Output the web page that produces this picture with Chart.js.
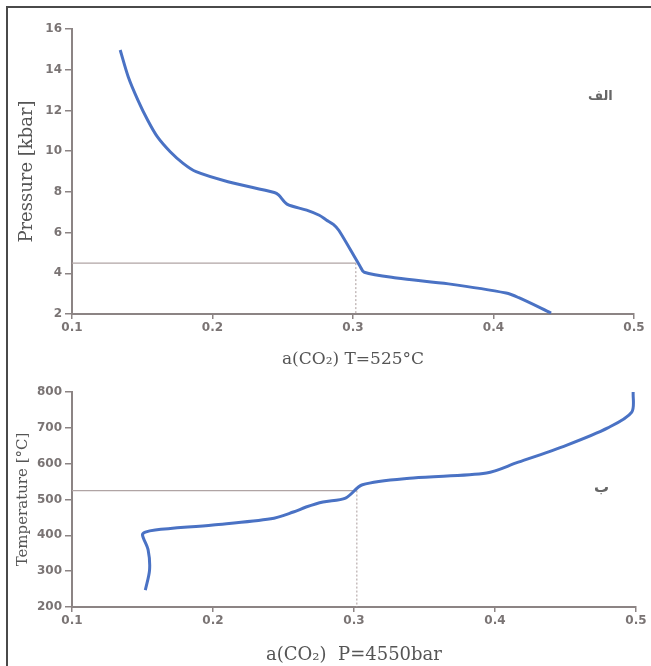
<!DOCTYPE html>
<html lang="fa">
<head>
<meta charset="UTF-8">
<title>a(CO2) curves</title>
<script src="https://cdn.jsdelivr.net/npm/chart.js"></script>
<style>
  html, body { margin: 0; background: #fff; overflow: hidden; }
  .janela { position: relative; width: 651px; height: 666px; overflow: hidden; }
  .borda-topo { position: absolute; left: 6px; top: 6px; width: 645px; height: 2px; background: #4a4a4a; }
  .borda-esq { position: absolute; left: 6px; top: 6px; width: 2px; height: 660px; background: #4a4a4a; }
  canvas { position: absolute; left: 0; }
  #graficoP { top: 0; }
  #graficoT { top: 370px; }
  .rotulo { position: absolute; font-family: "DejaVu Sans", sans-serif; font-weight: bold; color: #666; direction: rtl; }
</style>
</head>
<body>
<div class="janela">
  <div class="borda-topo"></div>
  <div class="borda-esq"></div>
  <canvas id="graficoP" width="651" height="370"></canvas>
  <canvas id="graficoT" width="651" height="296"></canvas>
  <span class="rotulo" style="left:588px; top:88px; font-size:13px;">الف</span>
  <span class="rotulo" style="left:594px; top:478px; font-size:15px;">ب</span>
</div>

<script>
// top panel: a(CO2) vs pressure at T=525°C
const aPressao = [0.1343, 0.140, 0.1469, 0.1538, 0.1607, 0.1699, 0.1791, 0.1883, 0.211, 0.244, 0.247, 0.253, 0.267, 0.276, 0.281, 0.286, 0.290, 0.305, 0.308, 0.331, 0.368, 0.409, 0.418, 0.441];
const pressao  = [14.97, 13.66, 12.51, 11.53, 10.71, 9.97, 9.40, 8.99, 8.5, 7.97, 7.85, 7.4, 7.1, 6.85, 6.62, 6.4, 6.1, 4.35, 4.05, 3.77, 3.48, 3.03, 2.8, 2.05];

// bottom panel: a(CO2) vs temperature at P=4550 bar
const aTemp = [0.152, 0.155, 0.154, 0.150, 0.152, 0.159, 0.200, 0.241, 0.257, 0.266, 0.278, 0.294, 0.306, 0.342, 0.394, 0.415, 0.451, 0.480, 0.497, 0.498];
const temp  = [247, 303, 359, 401, 409, 415, 429, 446, 465, 479, 493, 504, 541, 560, 574, 602, 652, 700, 744, 800];

const xTicks = [0.1, 0.2, 0.3, 0.4, 0.5];
const pTicks = [2, 4, 6, 8, 10, 12, 14, 16];
const tTicks = [200, 300, 400, 500, 600, 700, 800];

// guide lines
const refA = 0.302;
const refP = 4.5;
const refT = 525;

const corEixo = '#8c8484';
const corLinha = '#4a72c4';

function pontos(xs, ys) {
    return xs.map((x, i) => ({ x: x, y: ys[i] }));
}

function montarGrafico(id, dados, ticksY, refY, tituloX, tituloY, cfg) {
    const ctx = document.getElementById(id).getContext('2d');
    return new Chart(ctx, {
        type: 'scatter',
        data: {
            datasets: [
                {
                    data: dados,
                    showLine: true,
                    borderColor: corLinha,
                    borderWidth: 3,
                    pointRadius: 0,
                    tension: 0.3
                },
                {
                    data: [{ x: xTicks[0], y: refY }, { x: refA, y: refY }],
                    showLine: true,
                    borderColor: '#b0a4a4',
                    borderWidth: 1.2,
                    pointRadius: 0
                },
                {
                    data: [{ x: refA, y: refY }, { x: refA, y: ticksY[0] }],
                    showLine: true,
                    borderColor: '#b8acac',
                    borderWidth: 1.2,
                    borderDash: [2, 2],
                    pointRadius: 0
                }
            ]
        },
        options: {
            responsive: false,
            animation: false,
            layout: { padding: { top: cfg.padTop, right: cfg.padRight, left: 0, bottom: 0 } },
            plugins: { legend: { display: false }, tooltip: { enabled: false } },
            scales: {
                x: {
                    type: 'linear',
                    min: xTicks[0],
                    max: xTicks[xTicks.length - 1],
                    afterBuildTicks: s => { s.ticks = xTicks.map(v => ({ value: v })); },
                    afterFit: s => { s.height = cfg.alturaX; },
                    grid: { drawOnChartArea: false, drawTicks: true, tickLength: 5, color: corEixo, lineWidth: 1.5 },
                    border: { display: true, color: corEixo, width: 2 },
                    ticks: {
                        color: '#7a7474',
                        padding: 2,
                        font: { family: 'DejaVu Sans', size: 12, weight: 'bold' },
                        callback: v => v.toFixed(1)
                    },
                    title: {
                        display: true,
                        text: tituloX,
                        color: '#555',
                        padding: { top: cfg.padTituloX, bottom: 0 },
                        font: { family: 'DejaVu Serif', size: cfg.fonteX }
                    }
                },
                y: {
                    type: 'linear',
                    min: ticksY[0],
                    max: ticksY[ticksY.length - 1],
                    afterBuildTicks: s => { s.ticks = ticksY.map(v => ({ value: v })); },
                    afterFit: s => { s.width = 72; },
                    grid: { drawOnChartArea: false, drawTicks: true, tickLength: 7, color: corEixo, lineWidth: 1.5 },
                    border: { display: true, color: corEixo, width: 2 },
                    ticks: {
                        color: '#7a7474',
                        padding: 3,
                        font: { family: 'DejaVu Sans', size: 12, weight: 'bold' }
                    },
                    title: {
                        display: true,
                        text: tituloY,
                        color: '#555',
                        padding: { top: cfg.padTituloY, bottom: 0 },
                        font: { family: 'DejaVu Serif', size: cfg.fonteY }
                    }
                }
            }
        }
    });
}

montarGrafico('graficoP', pontos(aPressao, pressao), pTicks, refP,
    'a(CO\u2082) T=525\u00B0C', 'Pressure [kbar]',
    { padTop: 29, padRight: 17, alturaX: 56, padTituloX: 5, fonteX: 17, padTituloY: 17, fonteY: 18 });

montarGrafico('graficoT', pontos(aTemp, temp), tTicks, refT,
    'a(CO\u2082)  P=4550bar', 'Temperature [\u00B0C]',
    { padTop: 22, padRight: 15, alturaX: 59, padTituloX: 8, fonteX: 18, padTituloY: 14, fonteY: 15 });
</script>
</body>
</html>
